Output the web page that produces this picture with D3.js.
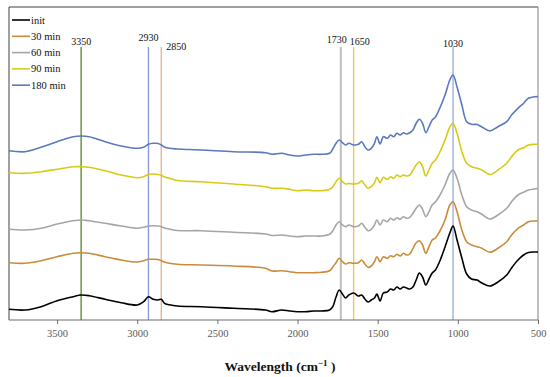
<!DOCTYPE html>
<html>
<head>
<meta charset="utf-8">
<script src="https://cdn.jsdelivr.net/npm/d3@7"></script>
<style>
  body { margin: 0; background: #fff; }
  svg { display: block; font-family: "Liberation Serif", "DejaVu Serif", serif; }
</style>
</head>
<body>
<svg id="chart"></svg>
<script>
// wavenumbers (cm-1) shared by all spectra
const wavenumbers = [3800, 3700, 3600, 3500, 3400, 3350, 3300, 3200, 3100, 3000,
  2960, 2930, 2900, 2870, 2850, 2830, 2800, 2750, 2600, 2400,
  2200, 2160, 2100, 2050, 2000, 1950, 1900, 1850, 1800, 1780,
  1760, 1740, 1720, 1700, 1680, 1650, 1620, 1600, 1580, 1560,
  1540, 1520, 1505, 1485, 1465, 1440, 1420, 1400, 1380, 1360,
  1340, 1320, 1300, 1280, 1260, 1240, 1220, 1200, 1180, 1160,
  1140, 1115, 1080, 1050, 1030, 1005, 975, 945, 915, 880,
  850, 800, 750, 695, 665, 625, 590, 560, 520, 500];

// stacked absorbance (a.u.)
const init = [0.107, 0.100, 0.133, 0.193, 0.233, 0.250, 0.243, 0.207, 0.173, 0.150,
  0.183, 0.233, 0.207, 0.200, 0.207, 0.167, 0.153, 0.140, 0.133, 0.117,
  0.100, 0.083, 0.100, 0.090, 0.083, 0.083, 0.090, 0.090, 0.100, 0.133,
  0.230, 0.300, 0.260, 0.220, 0.250, 0.270, 0.240, 0.250, 0.210, 0.180,
  0.200, 0.220, 0.260, 0.190, 0.270, 0.280, 0.310, 0.300, 0.330, 0.310,
  0.330, 0.320, 0.310, 0.330, 0.400, 0.470, 0.430, 0.350, 0.410, 0.470,
  0.500, 0.580, 0.730, 0.870, 0.940, 0.800, 0.620, 0.460, 0.410, 0.400,
  0.370, 0.340, 0.380, 0.450, 0.520, 0.600, 0.650, 0.675, 0.680, 0.680];

const min30 = [0.573, 0.567, 0.593, 0.633, 0.667, 0.673, 0.667, 0.633, 0.600, 0.580,
  0.593, 0.607, 0.607, 0.605, 0.593, 0.580, 0.567, 0.557, 0.550, 0.540,
  0.517, 0.490, 0.493, 0.483, 0.473, 0.473, 0.473, 0.477, 0.493, 0.530,
  0.573, 0.617, 0.583, 0.560, 0.573, 0.567, 0.573, 0.600, 0.560, 0.527,
  0.540, 0.583, 0.633, 0.583, 0.633, 0.617, 0.643, 0.633, 0.657, 0.640,
  0.667, 0.650, 0.660, 0.717, 0.773, 0.793, 0.750, 0.667, 0.733, 0.800,
  0.820, 0.880, 1.000, 1.150, 1.183, 1.083, 0.900, 0.783, 0.750, 0.733,
  0.717, 0.677, 0.717, 0.783, 0.850, 0.917, 0.950, 0.983, 0.990, 0.990];

const min60 = [0.907, 0.900, 0.917, 0.960, 0.993, 1.000, 0.993, 0.967, 0.940, 0.917,
  0.927, 0.940, 0.943, 0.940, 0.933, 0.920, 0.910, 0.895, 0.893, 0.877,
  0.860, 0.845, 0.850, 0.840, 0.833, 0.840, 0.840, 0.840, 0.857, 0.893,
  0.950, 0.983, 0.950, 0.933, 0.950, 0.933, 0.940, 0.967, 0.927, 0.893,
  0.907, 0.950, 1.000, 0.950, 1.000, 0.983, 1.017, 1.000, 1.023, 1.007,
  1.033, 1.017, 1.027, 1.067, 1.117, 1.150, 1.107, 1.033, 1.083, 1.150,
  1.180, 1.240, 1.350, 1.467, 1.500, 1.417, 1.250, 1.133, 1.100, 1.083,
  1.057, 1.010, 1.050, 1.117, 1.183, 1.250, 1.277, 1.300, 1.310, 1.315];

const min90 = [1.473, 1.467, 1.483, 1.507, 1.533, 1.533, 1.527, 1.493, 1.450, 1.423,
  1.433, 1.457, 1.460, 1.455, 1.447, 1.430, 1.417, 1.395, 1.383, 1.360,
  1.333, 1.317, 1.317, 1.307, 1.293, 1.300, 1.293, 1.293, 1.307, 1.333,
  1.383, 1.417, 1.383, 1.360, 1.365, 1.360, 1.367, 1.393, 1.350, 1.317,
  1.333, 1.373, 1.427, 1.373, 1.427, 1.407, 1.433, 1.417, 1.450, 1.433,
  1.450, 1.440, 1.450, 1.500, 1.550, 1.583, 1.533, 1.440, 1.500, 1.567,
  1.600, 1.670, 1.800, 1.930, 1.967, 1.867, 1.683, 1.567, 1.533, 1.517,
  1.500, 1.455, 1.500, 1.567, 1.633, 1.700, 1.723, 1.750, 1.757, 1.757];

const min180 = [1.693, 1.683, 1.727, 1.783, 1.833, 1.840, 1.833, 1.783, 1.740, 1.717,
  1.727, 1.757, 1.767, 1.765, 1.750, 1.730, 1.717, 1.710, 1.700, 1.683,
  1.673, 1.657, 1.667, 1.650, 1.640, 1.650, 1.657, 1.657, 1.667, 1.710,
  1.767, 1.800, 1.773, 1.750, 1.767, 1.750, 1.757, 1.783, 1.733, 1.700,
  1.717, 1.767, 1.833, 1.760, 1.833, 1.817, 1.850, 1.833, 1.867, 1.850,
  1.873, 1.860, 1.873, 1.900, 1.967, 2.007, 1.967, 1.873, 1.933, 2.000,
  2.030, 2.110, 2.250, 2.400, 2.450, 2.330, 2.150, 1.983, 1.957, 1.955,
  1.930, 1.890, 1.933, 1.983, 2.050, 2.117, 2.167, 2.217, 2.233, 2.233];

const seriesNames = ["init", "30 min", "60 min", "90 min", "180 min"];
const seriesValues = [init, min30, min60, min90, min180];
const seriesColors = ["#000000", "#C98C3A", "#A5A5A5", "#D8CB17", "#5B79BD"];

// marked bands
const markerWaves = [3350, 2930, 2850, 1730, 1650, 1030];
const markerColors = ["#5E8F2F", "#8F9CD8", "#E9B58C", "#BFBFBF", "#F2C84E", "#9DB2DF"];

const xTicks = [3500, 3000, 2500, 2000, 1500, 1000, 500];

const width = 550, height = 377;
const m = { left: 9, right: 538, top: 7, bottom: 320 };

const svg = d3.select("#chart").attr("width", width).attr("height", height);

const x = d3.scaleLinear().domain([3800, 500]).range([m.left, m.right]);
const y = d3.scaleLinear().domain([0, 3.13]).range([m.bottom, m.top]);

// plot frame
svg.append("line").attr("x1", m.left).attr("x2", m.right).attr("y1", m.top).attr("y2", m.top)
  .attr("stroke", "#404040").attr("stroke-width", 1);
svg.append("line").attr("x1", m.left).attr("x2", m.left).attr("y1", m.top).attr("y2", m.bottom)
  .attr("stroke", "#404040").attr("stroke-width", 1);
svg.append("line").attr("x1", m.right).attr("x2", m.right).attr("y1", m.top).attr("y2", m.bottom)
  .attr("stroke", "#808080").attr("stroke-width", 1);

// marker lines + labels
const labelDx = [0, 0, 15, -4, 6, 0];
const labelY = [45, 41, 50, 43, 45, 47];
const markerTop = 47;

markerWaves.forEach((w, i) => {
  svg.append("line")
    .attr("x1", x(w)).attr("x2", x(w))
    .attr("y1", markerTop).attr("y2", m.bottom)
    .attr("stroke", markerColors[i])
    .attr("stroke-width", i === 3 ? 2 : 1.4);
  svg.append("text")
    .attr("x", x(w) + labelDx[i])
    .attr("y", labelY[i])
    .attr("text-anchor", "middle")
    .attr("font-size", "10px")
    .attr("fill", "#111")
    .text(w);
});

// spectra
const line = d3.line()
  .x((d, i) => x(wavenumbers[i]))
  .y(d => y(d))
  .curve(d3.curveCatmullRom.alpha(0.5));

seriesValues.forEach((vals, i) => {
  svg.append("path")
    .datum(vals)
    .attr("fill", "none")
    .attr("stroke", seriesColors[i])
    .attr("stroke-width", 1.6)
    .attr("stroke-linejoin", "round")
    .attr("d", line);
});

// x axis
const xAxis = svg.append("g")
  .attr("transform", `translate(0,${m.bottom})`)
  .call(d3.axisBottom(x).tickValues(xTicks).tickFormat(d3.format("d"))
    .tickSize(4).tickSizeOuter(0).tickPadding(6));
xAxis.select(".domain").attr("stroke", "#6b6b6b").attr("stroke-width", 1.2)
  .attr("d", `M${m.left},0H${m.right}`);
xAxis.selectAll(".tick line").attr("stroke", "#6b6b6b");
xAxis.selectAll(".tick text")
  .attr("fill", "#595959")
  .attr("font-size", "10.5px")
  .attr("font-family", "Liberation Serif, DejaVu Serif, serif");

// axis title
const title = svg.append("text")
  .attr("x", 280)
  .attr("y", 371)
  .attr("text-anchor", "middle")
  .attr("font-size", "13.5px")
  .attr("font-weight", "bold")
  .attr("fill", "#111");
title.append("tspan").text("Wavelength (cm");
title.append("tspan").attr("dy", -5).attr("font-size", "9px").text("\u22121");
title.append("tspan").attr("dy", 5).text(" )");

// legend
const legend = svg.append("g").attr("transform", "translate(12,20)");
seriesNames.forEach((name, i) => {
  const g = legend.append("g").attr("transform", `translate(0,${i * 16.3})`);
  g.append("line").attr("x1", 0).attr("x2", 18).attr("y1", 0).attr("y2", 0)
    .attr("stroke", seriesColors[i]).attr("stroke-width", 1.6);
  g.append("text").attr("x", 19).attr("y", 3.5)
    .attr("font-size", "10.5px").attr("fill", "#111").text(name);
});
</script>
</body>
</html>
